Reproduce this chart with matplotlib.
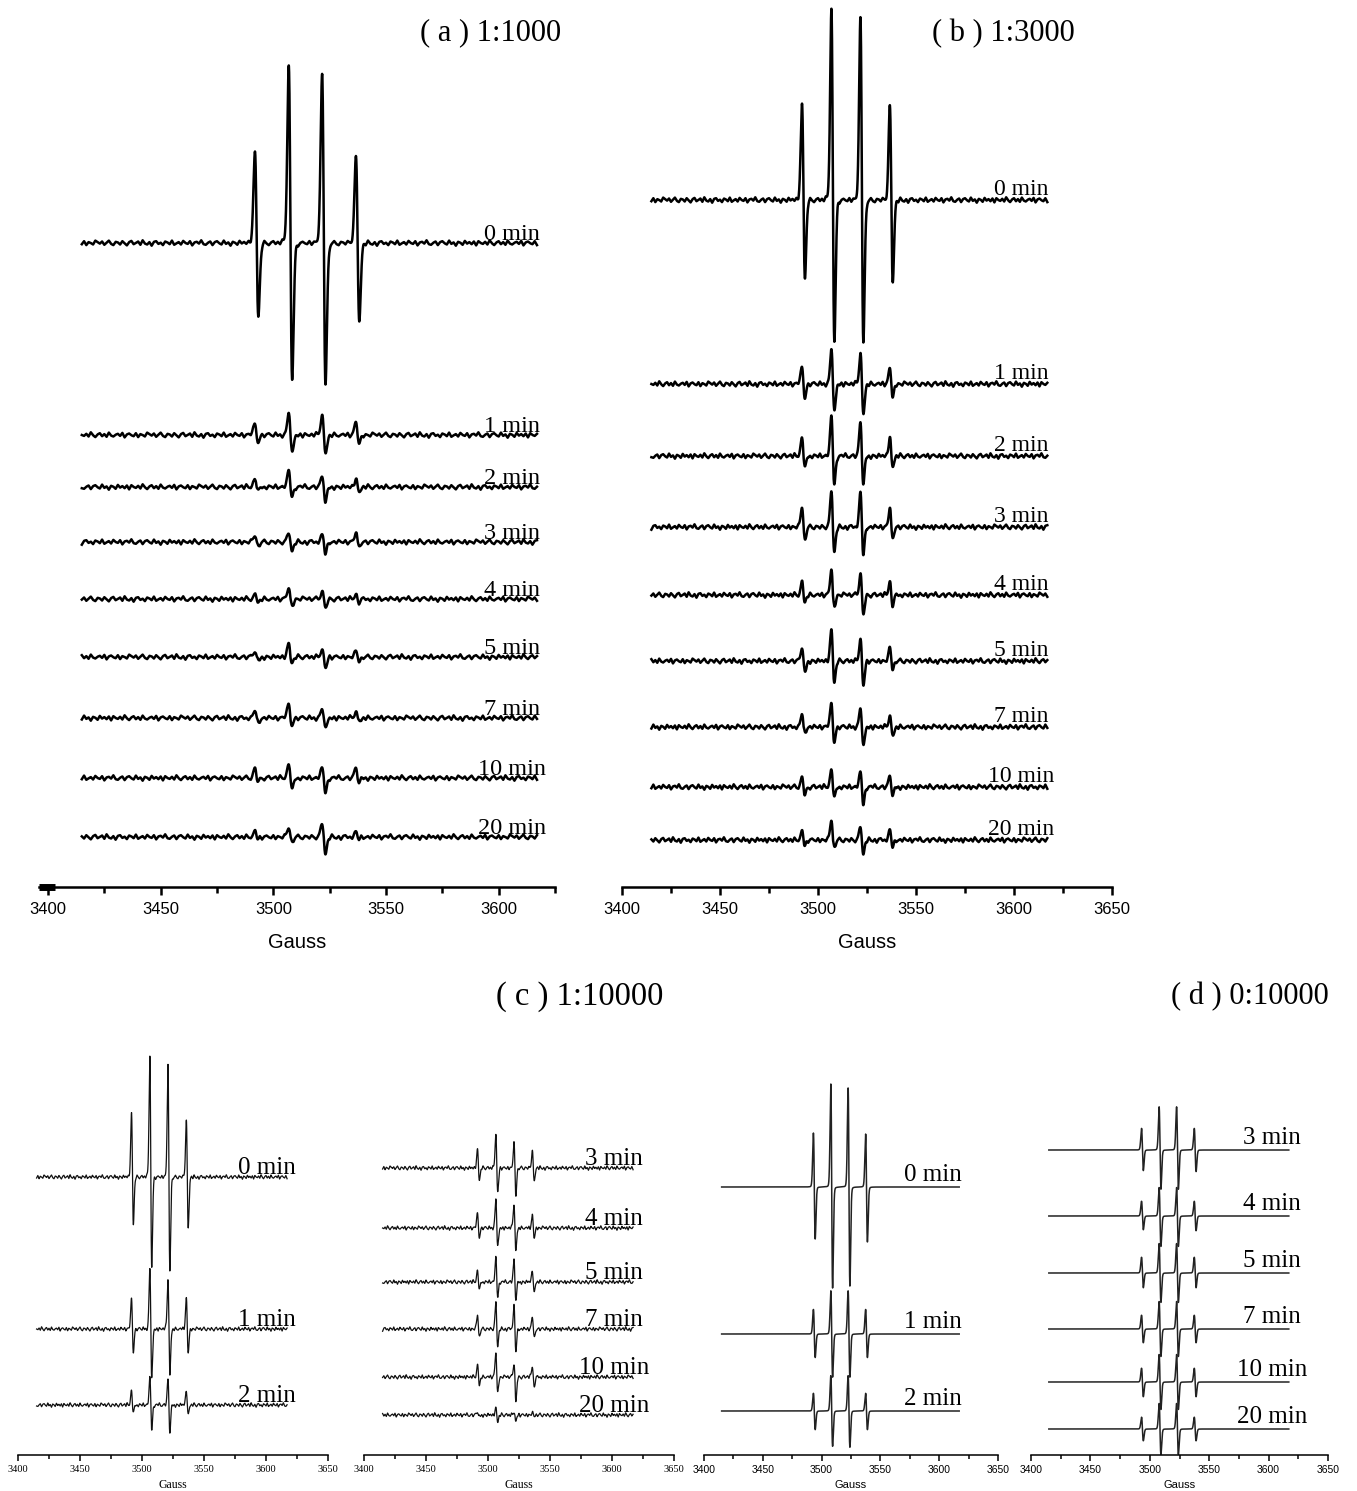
import numpy as np
import matplotlib
matplotlib.use('Agg')
import matplotlib.pyplot as plt
from matplotlib.ticker import MultipleLocator

W, H = 1357, 1491
SERIF = 'Liberation Serif'
SANS = 'Liberation Sans'

# ---- data ---------------------------------------------------------------
# line centres (Gauss) of the DMPO-OH quartet
centres_ab = [3492.6, 3507.6, 3522.4, 3537.4]
centres_c = [3492.3, 3507.1, 3521.7, 3536.5]
centres_d = [3493.8, 3508.6, 3523.3, 3538.2]

# (up lobe, down lobe) heights of each of the 4 lines, per trace
times_a = ['0 min', '1 min', '2 min', '3 min', '4 min', '5 min', '7 min', '10 min', '20 min']
amps_a = [
    [(93, 75), (181, 140), (171, 144), (87, 79)],
    [(12, 7), (24, 18), (21, 20), (13, 8)],
    [(10, 4), (17, 10), (10, 15), (8, 5)],
    [(6, 4), (9, 10), (7, 12), (8, 3)],
    [(4, 3), (12, 7), (8, 9), (5, 3)],
    [(6, 4), (14, 6), (8, 12), (5, 5)],
    [(8, 5), (15, 7), (10, 11), (7, 4)],
    [(10, 3), (16, 12), (10, 15), (10, 4)],
    [(6, 2), (9, 5), (13, 18), (5, 2)],
]
times_b = ['0 min', '1 min', '2 min', '3 min', '4 min', '5 min', '7 min', '10 min', '20 min']
amps_b = [
    [(98, 80), (195, 145), (185, 145), (95, 83)],
    [(18, 14), (37, 28), (32, 32), (16, 13)],
    [(21, 12), (41, 29), (34, 28), (19, 11)],
    [(20, 13), (37, 26), (35, 28), (18, 10)],
    [(13, 7), (27, 12), (22, 20), (14, 10)],
    [(14, 12), (32, 22), (23, 26), (13, 9)],
    [(14, 6), (25, 15), (20, 20), (12, 10)],
    [(10, 8), (20, 11), (15, 18), (11, 8)],
    [(9, 6), (20, 7), (13, 15), (10, 7)],
]
times_c1 = ['0 min', '1 min', '2 min']
amps_c1 = [
    [(65, 48), (124, 93), (113, 96), (58, 53)],
    [(31, 23), (62, 51), (52, 48), (31, 24)],
    [(16, 8), (28, 25), (25, 28), (15, 10)],
]
times_c2 = ['3 min', '4 min', '5 min', '7 min', '10 min', '20 min']
amps_c2 = [
    [(19, 12), (35, 25), (25, 29), (18, 14)],
    [(15, 9), (30, 19), (25, 24), (13, 10)],
    [(13, 8), (25, 15), (22, 18), (12, 11)],
    [(14, 8), (27, 18), (24, 23), (12, 9)],
    [(12, 8), (25, 16), (14, 26), (11, 10)],
    [(3, 2), (7, 7), (3, 7), (2, 2)],
]
times_d1 = ['0 min', '1 min', '2 min']
amps_d1 = [
    [(55, 53), (105, 103), (101, 101), (54, 56)],
    [(25, 24), (44, 44), (44, 44), (25, 24)],
    [(18, 19), (36, 36), (36, 37), (18, 19)],
]
times_d2 = ['3 min', '4 min', '5 min', '7 min', '10 min', '20 min']
amps_d2 = [
    [(22, 21), (44, 40), (44, 40), (22, 22)],
    [(15, 14), (29, 31), (29, 31), (15, 15)],
    [(16, 15), (30, 30), (30, 30), (16, 15)],
    [(14, 14), (28, 28), (28, 28), (14, 14)],
    [(14, 15), (28, 28), (28, 28), (14, 15)],
    [(12, 12), (26, 26), (26, 26), (12, 12)],
]

# baseline wobble, one value per Gauss (hand-typed)
ripple = [0.3, -0.2, 0.5, -0.6, 0.1, 0.8, -0.3, -0.7, 0.4, 0.2, -0.5, 0.6, -0.1, -0.8, 0.3,
          0.7, -0.4, 0.0, 0.5, -0.6, 0.9, -0.2, -0.5, 0.3, -0.9, 0.4, 0.6, -0.3, 0.1, -0.7,
          0.5, 0.2, -0.4, 0.8, -0.6, -0.1, 0.3, -0.5, 0.7, 0.0, -0.3, 0.6, -0.8, 0.2, 0.4,
          -0.2, 0.9, -0.4, -0.6, 0.1, 0.5, -0.7, 0.3, 0.6, -0.1, -0.5, 0.8, -0.3, 0.2, -0.9,
          0.4, 0.1, -0.6, 0.7, -0.2, 0.3, -0.4, 0.5, -0.8, 0.6, 0.0, -0.3, 0.4, -0.5, 0.9,
          -0.1, -0.7, 0.2, 0.6, -0.4, 0.3, -0.6, 0.8, -0.2, -0.5, 0.1, 0.4, -0.3, 0.7, -0.8,
          0.2, 0.5, -0.1, -0.4, 0.6, -0.7, 0.3, 0.0, -0.5, 0.8]

field = np.arange(3415, 3617.01, 0.05)
ripple_field = np.arange(3415, 3618)
SIGMA_G = 0.8      # gaussian part of the line
GAMMA_G = 0.9      # lorentzian part of the line
LOR_FRAC = 0.15


def line_shape(u_g, u_l):
    # first-derivative pseudo-Voigt, each part scaled to unit peak
    g = -u_g * np.exp(-u_g ** 2 / 2) / 0.6065
    lo = -u_l / (1 + u_l ** 2) ** 2 / 0.3248
    return (1 - LOR_FRAC) * g + LOR_FRAC * lo


def spectrum(centres, amps, noise, shift):
    y = np.zeros_like(field)
    for c, (up, down) in zip(centres, amps):
        d = field - c
        shape = line_shape(d / SIGMA_G, d / GAMMA_G)
        y += np.where(d < 0, up * shape, down * shape)
    if noise:
        rip = np.roll(np.tile(ripple, 3), shift)[:len(ripple_field)]
        y += noise * np.interp(field, ripple_field, rip)
    return y


fig = plt.figure(figsize=(W / 100, H / 100), dpi=100)


def add_box(x0, x1, y0, y1):
    # box given in pixels of the output picture
    return fig.add_axes([x0 / W, 1 - y1 / H, (x1 - x0) / W, (y1 - y0) / H])


def style_axis(ax, xlim, lw, fs, font, tick_len, pad, labpad, lab_fs):
    ax.set_xlim(*xlim)
    for s in ['top', 'left', 'right']:
        ax.spines[s].set_visible(False)
    ax.spines['bottom'].set_linewidth(lw)
    ax.set_yticks([])
    ax.xaxis.set_major_locator(MultipleLocator(50))
    ax.xaxis.set_minor_locator(MultipleLocator(25))
    ax.tick_params(axis='x', which='major', length=tick_len, width=lw, pad=pad,
                   labelsize=fs, direction='out')
    ax.tick_params(axis='x', which='minor', length=tick_len * 0.75, width=lw, direction='out')
    for t in ax.get_xticklabels():
        t.set_fontfamily(font)
    ax.set_xlabel('Gauss', fontsize=lab_fs, fontfamily=font, labelpad=labpad)
    ax.patch.set_alpha(0)


def draw_panel(box, xlim, centres, amps, times, offsets, lab_x, lab_dy, lw, color,
               noise, lab_fs, axis_lw, tick_fs, tick_font, tick_len, pad, labpad, gauss_fs):
    x0, x1, y0, y1 = box
    ax = add_box(x0, x1, y0, y1)
    ax.set_ylim(0, y1 - y0)
    for i, (a, t, off) in enumerate(zip(amps, times, offsets)):
        ax.plot(field, off + spectrum(centres, a, noise, 23 * i + 7),
                color=color, lw=lw, solid_joinstyle='round')
        ax.text(lab_x, off + lab_dy, t, ha='center', va='baseline',
                fontsize=lab_fs, fontfamily=SERIF)
    style_axis(ax, xlim, axis_lw, tick_fs, tick_font, tick_len, pad, labpad, gauss_fs)
    return ax


# (a)
ax_a = draw_panel((39, 555, 0, 887), (3396, 3625), centres_ab, amps_a, times_a,
                  [644, 452, 400, 345, 288, 230, 169, 109, 50], 3605.8, 3,
                  1.8, 'black', 3.0, 17.5, 1.8, 12, SANS, 6, 5, 11, 14.5)
ax_a.plot([3396, 3403], [0, 0], color='black', lw=5, solid_capstyle='butt', clip_on=False)

# (b)
draw_panel((622, 1112, 0, 887), (3400, 3650), centres_ab, amps_b, times_b,
           [687, 503, 431, 360, 292, 226, 160, 100, 47], 3603.6, 5,
           1.8, 'black', 3.0, 17, 1.8, 12, SANS, 6, 5, 11, 14.5)

# (c)
draw_panel((18, 328, 1020, 1455), (3400, 3650), centres_c, amps_c1, times_c1,
           [278, 126, 50], 3601, 3, 0.9, '#111111', 2.5, 18, 1.1, 7.5, SERIF, 4, 3, 4, 8.5)
draw_panel((364, 674, 1020, 1455), (3400, 3650), centres_c, amps_c2, times_c2,
           [287, 227, 173, 126, 78, 40], 3601.6, 3, 0.9, '#111111', 2.5, 18, 1.1, 7.5,
           SERIF, 4, 3, 4, 8.5)

# (d)
draw_panel((704, 998, 1020, 1455), (3400, 3650), centres_d, amps_d1, times_d1,
           [268, 121, 44], 3595, 6, 1.1, '#222222', 0, 18, 1.1, 7.5, SANS, 4, 3, 4, 8)
draw_panel((1031, 1328, 1020, 1455), (3400, 3650), centres_d, amps_d2, times_d2,
           [305, 239, 182, 126, 73, 26], 3603, 6, 1.1, '#222222', 0, 18, 1.1, 7.5,
           SANS, 4, 3, 4, 8)

# panel titles
for x, y, s, fs in [(491, 33, '( a ) 1:1000', 22), (1003, 34, '( b ) 1:3000', 22),
                    (580, 997, '( c ) 1:10000', 23.5), (1250, 997, '( d ) 0:10000', 22)]:
    fig.text(x / W, 1 - y / H, s, ha='center', va='center', fontsize=fs, fontfamily=SERIF)

fig.savefig('out.png', dpi=100)
